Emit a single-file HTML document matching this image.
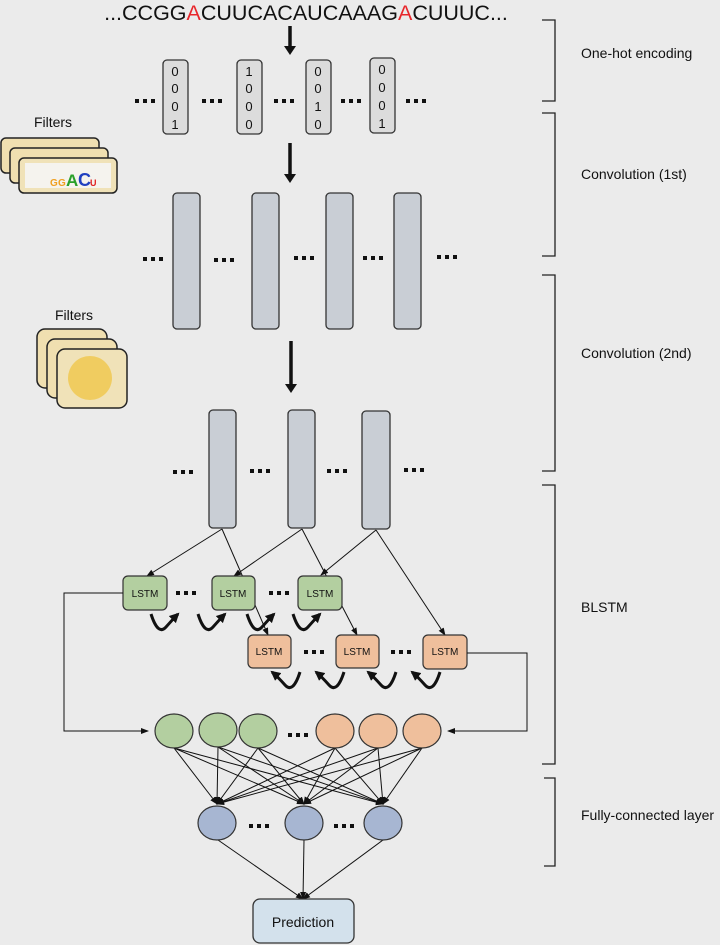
<!DOCTYPE html>
<html><head><meta charset="utf-8"><style>
html,body{margin:0;padding:0;background:#ebebeb;}
svg{display:block;font-family:"Liberation Sans",sans-serif;}
</style></head><body>
<svg width="720" height="945" viewBox="0 0 720 945" xmlns="http://www.w3.org/2000/svg">
<defs>
<marker id="ah" markerWidth="8" markerHeight="8" refX="7" refY="4" orient="auto" markerUnits="userSpaceOnUse"><path d="M0,1 L8,4 L0,7 z" fill="#111"/></marker>
<marker id="ahb" markerWidth="10" markerHeight="10" refX="8" refY="5" orient="auto" markerUnits="userSpaceOnUse"><path d="M0,0 L10,5 L0,10 z" fill="#111"/></marker>
<g id="d"><rect x="0" y="0" width="4" height="4" fill="#111"/><rect x="8" y="0" width="4" height="4" fill="#111"/><rect x="16" y="0" width="4" height="4" fill="#111"/></g>
</defs>
<rect width="720" height="945" fill="#ebebeb"/>

<text x="306" y="20" font-size="21.5" text-anchor="middle" fill="#111">...CCGG<tspan fill="#e8262b">A</tspan>CUUCACAUCAAAG<tspan fill="#e8262b">A</tspan>CUUUC...</text>

<g stroke="#111" stroke-width="3.5">
<line x1="290" y1="26" x2="290" y2="48"/>
<line x1="290" y1="143" x2="290" y2="176"/>
<line x1="291" y1="341" x2="291" y2="386"/>
</g>
<g fill="#111">
<path d="M284,46 L296,46 L290,55 z"/>
<path d="M284,174 L296,174 L290,183 z"/>
<path d="M285,384 L297,384 L291,393 z"/>
</g>

<g fill="#dcdcdc" stroke="#333" stroke-width="1.3">
<rect x="163" y="60" width="25" height="74" rx="4"/>
<rect x="237" y="60" width="25" height="74" rx="4"/>
<rect x="306" y="60" width="25" height="74" rx="4"/>
<rect x="370" y="58" width="25" height="75" rx="4"/>
</g>
<g font-size="13" text-anchor="middle" fill="#111">
<text x="175" y="76">0</text><text x="175" y="93">0</text><text x="175" y="111">0</text><text x="175" y="129">1</text>
<text x="249" y="76">1</text><text x="249" y="93">0</text><text x="249" y="111">0</text><text x="249" y="129">0</text>
<text x="318" y="76">0</text><text x="318" y="93">0</text><text x="318" y="111">1</text><text x="318" y="129">0</text>
<text x="382" y="74">0</text><text x="382" y="92">0</text><text x="382" y="110">0</text><text x="382" y="128">1</text>
</g>
<use href="#d" x="135" y="99"/><use href="#d" x="202" y="99"/><use href="#d" x="274" y="99"/><use href="#d" x="341" y="99"/><use href="#d" x="406" y="99"/>

<text x="53" y="127" font-size="14" text-anchor="middle" fill="#111">Filters</text>
<g stroke="#222" stroke-width="1.5">
<rect x="1" y="138" width="98" height="35" rx="5" fill="#f0dfb0"/>
<rect x="10" y="148" width="98" height="35" rx="5" fill="#f0dfb0"/>
<rect x="19" y="158" width="98" height="35" rx="5" fill="#f0e2b8"/>
</g>
<rect x="25" y="163" width="86" height="25" fill="#f5f3ee"/>
<g font-weight="bold">
<text x="50" y="186" font-size="10" fill="#f0a020">G</text>
<text x="58" y="186" font-size="10" fill="#f0a020">G</text>
<text x="66" y="186" font-size="17" fill="#2aa02a">A</text>
<text x="78" y="186" font-size="18" fill="#2040c0">C</text>
<text x="90" y="186" font-size="9" fill="#e02020">U</text>
</g>

<g fill="#c9ced5" stroke="#333" stroke-width="1.3">
<rect x="173" y="193" width="27" height="136" rx="4"/>
<rect x="252" y="193" width="27" height="136" rx="4"/>
<rect x="326" y="193" width="27" height="136" rx="4"/>
<rect x="394" y="193" width="27" height="136" rx="4"/>
</g>
<use href="#d" x="143" y="257"/><use href="#d" x="214" y="258"/><use href="#d" x="294" y="256"/><use href="#d" x="363" y="256"/><use href="#d" x="437" y="255"/>

<text x="74" y="320" font-size="14" text-anchor="middle" fill="#111">Filters</text>
<g stroke="#222" stroke-width="1.5">
<rect x="37" y="329" width="70" height="59" rx="8" fill="#f0dfb0"/>
<rect x="47" y="339" width="70" height="59" rx="8" fill="#f0dfb0"/>
<rect x="57" y="349" width="70" height="59" rx="8" fill="#f0e2b8"/>
</g>
<circle cx="90" cy="378" r="22" fill="#f0cc60"/>

<g fill="#c9ced5" stroke="#333" stroke-width="1.3">
<rect x="209" y="410" width="27" height="118" rx="4"/>
<rect x="288" y="410" width="27" height="118" rx="4"/>
<rect x="362" y="411" width="28" height="118" rx="4"/>
</g>
<use href="#d" x="173" y="470"/><use href="#d" x="250" y="469"/><use href="#d" x="327" y="469"/><use href="#d" x="404" y="468"/>

<g stroke="#111" stroke-width="1" marker-end="url(#ah)">
<line x1="222" y1="529" x2="147" y2="576"/>
<line x1="222" y1="529" x2="268" y2="635"/>
<line x1="302" y1="529" x2="234" y2="576"/>
<line x1="302" y1="529" x2="357" y2="635"/>
<line x1="376" y1="530" x2="321" y2="575"/>
<line x1="376" y1="530" x2="445" y2="635"/>
</g>

<g fill="#b3cfa0" stroke="#333" stroke-width="1.2">
<rect x="123" y="576" width="44" height="34" rx="5"/>
<rect x="212" y="576" width="43" height="34" rx="5"/>
<rect x="298" y="576" width="44" height="34" rx="5"/>
</g>
<g fill="#efbf9c" stroke="#333" stroke-width="1.2">
<rect x="248" y="635" width="43" height="33" rx="5"/>
<rect x="336" y="635" width="43" height="33" rx="5"/>
<rect x="423" y="635" width="44" height="34" rx="5"/>
</g>
<g font-size="10" text-anchor="middle" fill="#111">
<text x="145" y="597">LSTM</text><text x="233" y="597">LSTM</text><text x="320" y="597">LSTM</text>
<text x="269" y="655">LSTM</text><text x="357" y="655">LSTM</text><text x="445" y="655">LSTM</text>
</g>
<use href="#d" x="176" y="591"/><use href="#d" x="269" y="591"/>
<use href="#d" x="304" y="650"/><use href="#d" x="391" y="650"/>

<g fill="none" stroke="#111" stroke-width="3" marker-end="url(#ahb)">
<path d="M151,614 Q158,636 166,627 T178,614"/>
<path d="M198,614 Q205,636 213,627 T225,614"/>
<path d="M247,614 Q254,636 262,627 T274,614"/>
<path d="M293,614 Q300,636 308,627 T320,614"/>
<path d="M300,672 Q293,694 285,685 T272,672"/>
<path d="M344,672 Q337,694 329,685 T316,672"/>
<path d="M396,672 Q389,694 381,685 T368,672"/>
<path d="M440,672 Q433,694 425,685 T412,672"/>
</g>

<g fill="none" stroke="#111" stroke-width="1">
<polyline points="123,593 64,593 64,731 148,731" marker-end="url(#ah)"/>
<polyline points="467,653 527,653 527,731 448,731" marker-end="url(#ah)"/>
</g>

<g stroke="#111" stroke-width="1" marker-end="url(#ah)">
<line x1="174" y1="748" x2="217" y2="804"/><line x1="174" y1="748" x2="304" y2="804"/><line x1="174" y1="748" x2="383" y2="804"/>
<line x1="218" y1="747" x2="217" y2="804"/><line x1="218" y1="747" x2="304" y2="804"/><line x1="218" y1="747" x2="383" y2="804"/>
<line x1="258" y1="748" x2="217" y2="804"/><line x1="258" y1="748" x2="304" y2="804"/><line x1="258" y1="748" x2="383" y2="804"/>
<line x1="335" y1="748" x2="217" y2="804"/><line x1="335" y1="748" x2="304" y2="804"/><line x1="335" y1="748" x2="383" y2="804"/>
<line x1="378" y1="748" x2="217" y2="804"/><line x1="378" y1="748" x2="304" y2="804"/><line x1="378" y1="748" x2="383" y2="804"/>
<line x1="422" y1="748" x2="217" y2="804"/><line x1="422" y1="748" x2="304" y2="804"/><line x1="422" y1="748" x2="383" y2="804"/>
<line x1="218" y1="840" x2="303" y2="899"/><line x1="304" y1="840" x2="303" y2="899"/><line x1="383" y1="840" x2="303" y2="899"/>
</g>

<g stroke="#333" stroke-width="1.2">
<ellipse cx="174" cy="731" rx="19" ry="17" fill="#b3cfa0"/>
<ellipse cx="218" cy="730" rx="19" ry="17" fill="#b3cfa0"/>
<ellipse cx="258" cy="731" rx="19" ry="17" fill="#b3cfa0"/>
<ellipse cx="335" cy="731" rx="19" ry="17" fill="#efbf9c"/>
<ellipse cx="378" cy="731" rx="19" ry="17" fill="#efbf9c"/>
<ellipse cx="422" cy="731" rx="19" ry="17" fill="#efbf9c"/>
<ellipse cx="217" cy="823" rx="19" ry="17" fill="#a7b6d2"/>
<ellipse cx="304" cy="823" rx="19" ry="17" fill="#a7b6d2"/>
<ellipse cx="383" cy="823" rx="19" ry="17" fill="#a7b6d2"/>
</g>
<use href="#d" x="288" y="733"/>
<use href="#d" x="249" y="824"/><use href="#d" x="334" y="824"/>

<rect x="253" y="899" width="101" height="44" rx="7" fill="#d3e1ec" stroke="#333" stroke-width="1.3"/>
<text x="303" y="927" font-size="14" text-anchor="middle" fill="#111">Prediction</text>

<g fill="none" stroke="#222" stroke-width="1.3">
<polyline points="542,20 555,20 555,101 542,101"/>
<polyline points="542,113 555,113 555,256 542,256"/>
<polyline points="542,275 555,275 555,471 542,471"/>
<polyline points="542,485 555,485 555,764 542,764"/>
<polyline points="544,778 555,778 555,866 544,866"/>
</g>
<g font-size="14" fill="#111">
<text x="581" y="58">One-hot encoding</text>
<text x="581" y="179">Convolution (1st)</text>
<text x="581" y="358">Convolution (2nd)</text>
<text x="581" y="612">BLSTM</text>
<text x="581" y="820">Fully-connected layer</text>
</g>
</svg>
</body></html>
